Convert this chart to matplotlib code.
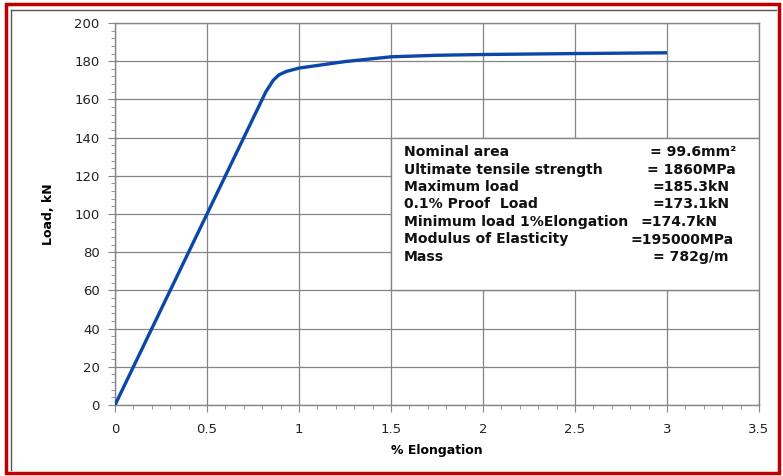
import matplotlib.pyplot as plt
from matplotlib.patches import Rectangle
from matplotlib.lines import Line2D
from matplotlib.ticker import MultipleLocator

# load-elongation curve of the strand
elong = [0, 0.25, 0.5, 0.75, 0.82, 0.86, 0.89, 0.93, 1.0, 1.25, 1.5, 1.75, 2.0, 2.5, 3.0]
load = [0, 50, 100, 150, 164, 170, 172.8, 174.6, 176.4, 179.8, 182.3, 183.1, 183.5, 184.0, 184.4]

props = ["Nominal area", "Ultimate tensile strength", "Maximum load",
         "0.1% Proof  Load", "Minimum load 1%Elongation",
         "Modulus of Elasticity", "Mass"]
values = ["= 99.6mm²", "= 1860MPa", "=185.3kN", "=173.1kN", "=174.7kN",
          "=195000MPa", "= 782g/m"]

xticks = [0, 0.5, 1, 1.5, 2, 2.5, 3, 3.5]
yticks = [0, 20, 40, 60, 80, 100, 120, 140, 160, 180, 200]

fig = plt.figure(figsize=(7.83, 4.76), dpi=100)
ax = fig.add_axes([115/783, 1-405/476, 644/783, 382/476])

grid_c = "#858585"
ax.plot(elong, load, color="#0a47a9", lw=2.4, solid_capstyle="butt", zorder=3)

ax.set_xlim(0, 3.5)
ax.set_ylim(0, 200)
ax.set_xticks(xticks)
ax.set_xticklabels([f"{v:g}" for v in xticks])
ax.set_yticks(yticks)
ax.xaxis.set_minor_locator(MultipleLocator(0.1))
ax.yaxis.set_minor_locator(MultipleLocator(4))
ax.grid(True, which="major", color=grid_c, lw=0.9)
for s in ax.spines.values():
    s.set_color(grid_c)
    s.set_linewidth(1.0)
ax.tick_params(which="major", length=5, color=grid_c, labelsize=9.5, labelcolor="#222222")
ax.tick_params(which="minor", length=3, color=grid_c)
ax.tick_params(axis="x", which="major", pad=8)
ax.tick_params(axis="y", which="major", pad=6)

ax.set_xlabel("% Elongation", fontsize=9, fontweight="bold",
              family=["Liberation Sans Narrow", "DejaVu Sans"], labelpad=6)
ax.set_ylabel("Load, kN", fontsize=9, fontweight="bold",
              family=["Liberation Sans Narrow", "DejaVu Sans"], labelpad=14)

# properties table box
ax.add_patch(Rectangle((1.5, 60), 2.0, 80, facecolor="white",
                       edgecolor=grid_c, lw=1.0, zorder=4))
val_x = [650, 647, 652, 652, 641, 631, 653]
for i, (p, v) in enumerate(zip(props, values)):
    y = 152 + i * 17.5
    fig.text(404/783, 1 - y/476, p, fontsize=10.1, fontweight="bold",
             color="#111111", va="center", zorder=5)
    fig.text(val_x[i]/783, 1 - y/476, v, fontsize=10.1, fontweight="bold",
             color="#111111", va="center", zorder=5)

# chart frame
fig.patches.append(Rectangle((6/783, 3/476), 773/783, 469/476, transform=fig.transFigure,
                             fill=False, edgecolor="#c00000", lw=2.5))
fig.lines.append(Line2D([11/783, 11/783], [6/476, 1-10/476], transform=fig.transFigure,
                        color="#555555", lw=1.0))
fig.lines.append(Line2D([11/783, 776/783], [1-10/476, 1-10/476], transform=fig.transFigure,
                        color="#555555", lw=1.0))

fig.savefig("out.png", dpi=100)
